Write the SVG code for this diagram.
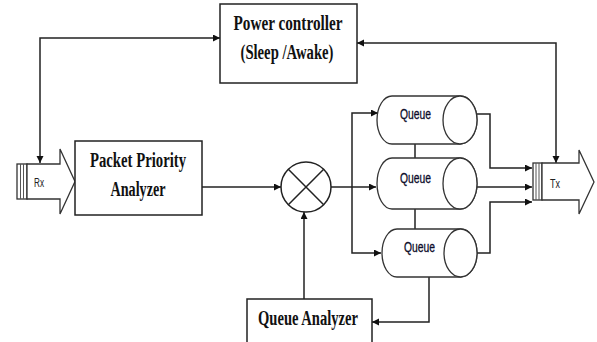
<svg xmlns="http://www.w3.org/2000/svg" width="597" height="342" viewBox="0 0 597 342">
<style>
.box{fill:#fff;stroke:#222;stroke-width:1.5}
.ln{fill:none;stroke:#222;stroke-width:1.5}
.sh{fill:#fff;stroke:#333;stroke-width:1.3}
.t{font-family:"Liberation Serif","Times New Roman",serif;font-weight:bold;font-size:20px;fill:#111;text-anchor:middle}
.q{font-family:"Liberation Sans",Arial,sans-serif;font-size:14px;fill:#0d0d2a;stroke:#0d0d2a;stroke-width:0.3}
.s{font-family:"Liberation Sans",Arial,sans-serif;font-size:12px;fill:#222}
</style>
<defs>
<marker id="ah" markerUnits="userSpaceOnUse" markerWidth="8" markerHeight="8" refX="7" refY="3.5" orient="auto-start-reverse">
<path d="M0,0 L7,3.5 L0,7 z" fill="#111"/>
</marker>
</defs>
<rect width="597" height="342" fill="#fff"/>
<g id="connectors">
<path class="ln" d="M40,163 V38 H220" marker-start="url(#ah)" marker-end="url(#ah)"/>
<path class="ln" d="M357,43 H556 V163" marker-start="url(#ah)" marker-end="url(#ah)"/>
<path class="ln" d="M202,187 H281" marker-end="url(#ah)"/>
<path class="ln" d="M320,187 H376" marker-end="url(#ah)"/>
<path class="ln" d="M378,113 H352 V253 H381" marker-start="url(#ah)" marker-end="url(#ah)"/>
<path class="ln" d="M443,114 H490 V168 H532" marker-end="url(#ah)"/>
<path class="ln" d="M443,187 H532" marker-end="url(#ah)"/>
<path class="ln" d="M444,253 H490 V202 H532" marker-end="url(#ah)"/>
<path class="ln" d="M415,144 V158"/>
<path class="ln" d="M415,209 V229"/>
<path class="ln" d="M429,277 V322 H372" marker-end="url(#ah)"/>
<path class="ln" d="M304,299 V212" marker-end="url(#ah)"/>
</g>
<g id="power-controller">
<rect class="box" x="220" y="4" width="137" height="79"/>
<text class="t" x="288" y="30" textLength="109" lengthAdjust="spacingAndGlyphs">Power controller</text>
<text class="t" x="287" y="59" textLength="93" lengthAdjust="spacingAndGlyphs">(Sleep /Awake)</text>
</g>
<g id="rx">
<rect class="sh" x="17" y="164" width="10" height="35"/>
<line x1="20.5" y1="164" x2="20.5" y2="199" stroke="#555" stroke-width="1"/>
<line x1="23.5" y1="164" x2="23.5" y2="199" stroke="#555" stroke-width="1"/>
<path class="sh" d="M27,164 H60 V149 L75,181.5 L60,214 V199 H27 Z"/>
<text class="s" x="34" y="187" textLength="10" lengthAdjust="spacingAndGlyphs">Rx</text>
</g>
<g id="packet-priority-analyzer">
<rect class="box" x="75" y="141" width="127" height="74"/>
<text class="t" x="138" y="167" textLength="96" lengthAdjust="spacingAndGlyphs">Packet Priority</text>
<text class="t" x="138" y="196" textLength="55" lengthAdjust="spacingAndGlyphs">Analyzer</text>
</g>
<g id="mixer">
<circle class="box" cx="306" cy="187" r="25"/>
<path class="ln" d="M288.3,169.3 L323.7,204.7 M323.7,169.3 L288.3,204.7" stroke-width="1.3"/>
</g>
<g id="queue1">
<path class="sh" d="M392,96 H460 A17,24 0 0 1 460,144 H392 A15,24 0 0 1 392,96 Z"/>
<ellipse class="sh" cx="460" cy="120" rx="17" ry="24"/>
<text class="q" x="400" y="119" textLength="31" lengthAdjust="spacingAndGlyphs">Queue</text>
</g>
<g id="queue2">
<path class="sh" d="M392,158 H460 A17,25.5 0 0 1 460,209 H392 A15,25.5 0 0 1 392,158 Z"/>
<ellipse class="sh" cx="460" cy="183.5" rx="17" ry="25.5"/>
<text class="q" x="400" y="183" textLength="31" lengthAdjust="spacingAndGlyphs">Queue</text>
</g>
<g id="queue3">
<path class="sh" d="M397,229 H460.5 A16.5,24 0 0 1 460.5,277 H397 A15,24 0 0 1 397,229 Z"/>
<ellipse class="sh" cx="460.5" cy="253" rx="16.5" ry="24"/>
<text class="q" x="404" y="252" textLength="31" lengthAdjust="spacingAndGlyphs">Queue</text>
</g>
<g id="queue-analyzer">
<rect class="box" x="247" y="299" width="125" height="50"/>
<text class="t" x="308" y="325" textLength="100" lengthAdjust="spacingAndGlyphs">Queue Analyzer</text>
</g>
<g id="tx">
<rect class="sh" x="533" y="163" width="9" height="37"/>
<line x1="536" y1="163" x2="536" y2="200" stroke="#555" stroke-width="1"/>
<line x1="539" y1="163" x2="539" y2="200" stroke="#555" stroke-width="1"/>
<path class="sh" d="M542,163 H579 V150 L594,182 L579,214 V200 H542 Z"/>
<text class="s" x="550" y="188" textLength="10" lengthAdjust="spacingAndGlyphs">Tx</text>
</g>
</svg>
